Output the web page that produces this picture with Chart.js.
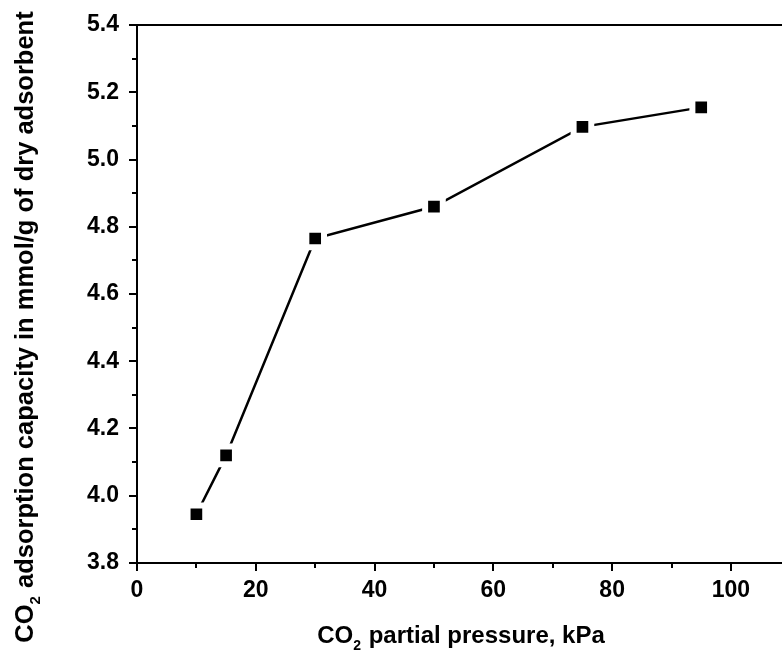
<!DOCTYPE html>
<html>
<head>
<meta charset="utf-8">
<script src="https://cdn.jsdelivr.net/npm/chart.js@4"></script>
<style>
  html, body { margin: 0; padding: 0; background: #fff; overflow: hidden; }
  canvas { display: block; }
</style>
</head>
<body>
<canvas id="chart" width="782" height="653"></canvas>
<script>
// data
const pressure = [10, 15, 30, 50, 75, 95];                 // kPa
const capacity = [3.945, 4.12, 4.765, 4.86, 5.097, 5.155]; // mmol/g
const xTicks = [0, 20, 40, 60, 80, 100];
const yTicks = [3.8, 4.0, 4.2, 4.4, 4.6, 4.8, 5.0, 5.2, 5.4];

const FONT = '"Liberation Sans", Arial, sans-serif';
const TICK_SIZE = 23;

// outward major/minor ticks, the top frame line and axis titles (CO2 with subscript)
const frame = {
  id: 'frame',
  afterDraw(chart) {
    const { ctx, chartArea: a, scales: { x, y } } = chart;
    ctx.save();
    ctx.strokeStyle = '#000';
    ctx.lineWidth = 2;
    ctx.beginPath();
    ctx.moveTo(a.left - 1, a.top);
    ctx.lineTo(a.right, a.top);
    for (let v = 0; v <= 110; v += 10) {
      const px = Math.round(x.getPixelForValue(v));
      if (px > a.right) break;
      const len = v % 20 === 0 ? 8 : 5;
      ctx.moveTo(px, a.bottom);
      ctx.lineTo(px, a.bottom + len);
    }
    for (let i = 0; i <= 16; i++) {
      const py = Math.round(y.getPixelForValue(3.8 + i * 0.1));
      const len = i % 2 === 0 ? 8 : 5;
      ctx.moveTo(a.left, py);
      ctx.lineTo(a.left - len, py);
    }
    ctx.stroke();

    ctx.fillStyle = '#000';
    const drawSub = (parts, cx, cy, size) => {
      const setFont = sub => { ctx.font = 'bold ' + (sub ? Math.round(size * 0.58) : size) + 'px ' + FONT; };
      let w = 0;
      parts.forEach(([t, sub]) => { setFont(sub); w += ctx.measureText(t).width + (sub ? 1 : 0); });
      let cur = cx - w / 2;
      ctx.textBaseline = 'alphabetic';
      ctx.textAlign = 'left';
      parts.forEach(([t, sub]) => {
        setFont(sub);
        ctx.fillText(t, cur, cy + (sub ? 7 : 0));
        cur += ctx.measureText(t).width + (sub ? 1 : 0);
      });
    };
    drawSub([['CO', false], ['2', true], [' partial pressure, kPa', false]], 461, 643, 24);

    ctx.translate(33, 327);
    ctx.rotate(-Math.PI / 2);
    drawSub([['CO', false], ['2', true], [' adsorption capacity in mmol/g of dry adsorbent', false]], 0, 0, 25.5);
    ctx.restore();
  }
};

new Chart(document.getElementById('chart'), {
  type: 'scatter',
  data: {
    datasets: [{
      data: pressure.map((p, i) => ({ x: p, y: capacity[i] })),
      showLine: true,
      borderColor: '#000',
      borderWidth: 2.5,
      pointStyle: 'rect',
      pointRadius: 12.5,
      pointBackgroundColor: '#000',
      pointBorderColor: '#fff',
      pointBorderWidth: 6,
      pointHoverRadius: 12.5
    }]
  },
  options: {
    responsive: false,
    animation: false,
    events: [],
    layout: { autoPadding: false, padding: { top: 25, left: 0, right: 0, bottom: 0 } },
    plugins: { legend: { display: false }, tooltip: { enabled: false } },
    scales: {
      x: {
        type: 'linear',
        min: 0,
        max: 108.6,
        afterBuildTicks(s) { s.ticks = xTicks.map(v => ({ value: v })); },
        afterFit(s) { s.height = 90; s.paddingLeft = 0; s.paddingRight = 0; },
        grid: { display: true, drawOnChartArea: false, drawTicks: false },
        border: { display: true, color: '#000', width: 2 },
        ticks: {
          padding: 14,
          color: '#000',
          font: { family: FONT, size: TICK_SIZE, weight: 'bold' },
          maxRotation: 0
        }
      },
      y: {
        type: 'linear',
        min: 3.8,
        max: 5.4,
        afterBuildTicks(s) { s.ticks = yTicks.map(v => ({ value: v })); },
        afterFit(s) { s.width = 137; s.paddingTop = 0; s.paddingBottom = 0; },
        grid: { display: true, drawOnChartArea: false, drawTicks: false },
        border: { display: true, color: '#000', width: 2 },
        ticks: {
          padding: 18,
          color: '#000',
          font: { family: FONT, size: TICK_SIZE, weight: 'bold' },
          callback: v => v.toFixed(1)
        }
      }
    }
  },
  plugins: [frame]
});
</script>
</body>
</html>
